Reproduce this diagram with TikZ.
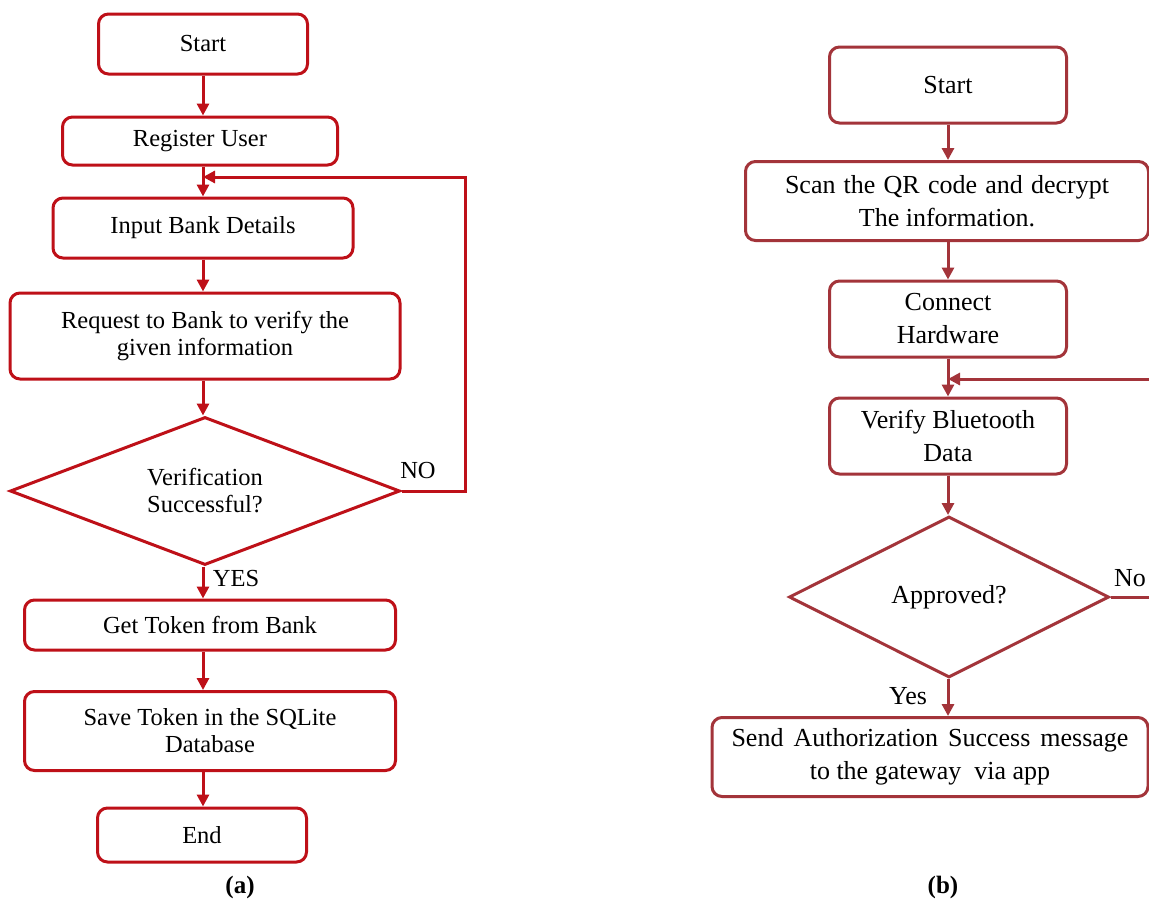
\documentclass[tikz,border=0pt]{standalone}
\usepackage{fontspec}
\setmainfont{Liberation Serif}
\usetikzlibrary{arrows.meta,shapes.geometric}
\definecolor{redA}{HTML}{BE1018}
\definecolor{redB}{HTML}{A3343A}
\begin{document}
\begin{tikzpicture}[x=1pt,y=-1pt,
  fA/.style={font=\fontsize{24.5}{27}\selectfont},
  fB/.style={font=\fontsize{26}{33}\selectfont},
  boxA/.style={draw=redA, line width=3pt, rounded corners=10pt, fill=white, align=center, inner sep=0pt, fA},
  boxB/.style={draw=redB, line width=3pt, rounded corners=10pt, fill=white, align=center, inner sep=0pt, fB},
  diaA/.style={draw=redA, line width=3pt, diamond, fill=white, align=center, inner sep=0pt, fA},
  diaB/.style={draw=redB, line width=3pt, diamond, fill=white, align=center, inner sep=0pt, fB},
  arrA/.style={draw=redA, line width=3pt, -{Triangle[width=12pt,length=12pt]}},
  arrB/.style={draw=redB, line width=3pt, -{Triangle[width=12pt,length=12pt]}},
  lineB/.style={draw=redB, line width=3pt},
  lbl/.style={inner sep=0pt},
  captext/.style={inner sep=0pt, font=\fontsize{25}{30}\selectfont\bfseries}
]
\useasboundingbox (0,0) rectangle (1149,903);
\fill[white] (0,0) rectangle (1149,903);

% ---------- (a) ----------
\node[boxA, minimum width=209pt, minimum height=60pt] (start1) at (203,44) {Start};
\node[boxA, minimum width=275pt, minimum height=48pt] (reg) at (200,141) {Register User};
\node[boxA, minimum width=300pt, minimum height=60pt] (inp) at (203,228) {Input Bank Details};
\node[boxA, minimum width=390pt, minimum height=86pt] (req) at (205,336) {Request to Bank to verify the\\given information};
\node[diaA, aspect=2.635, minimum width=390pt, minimum height=148pt] (dia1) at (205,491) {Verification\\Successful?};
\node[boxA, minimum width=371pt, minimum height=50pt] (tok) at (210,625) {Get Token from Bank};
\node[boxA, minimum width=371pt, minimum height=79pt] (save) at (210,731) {Save Token in the SQLite\\Database};
\node[boxA, minimum width=209pt, minimum height=54pt] (end1) at (202,835) {End};

\draw[arrA] (start1.south) -- (start1.south |- reg.north);
\draw[arrA] (reg.south -| start1.south) -- (inp.north -| start1.south);
\draw[arrA] (inp.south -| start1.south) -- (req.north -| start1.south);
\draw[arrA] (req.south -| start1.south) -- (dia1.north -| start1.south);
\draw[arrA] (dia1.south -| start1.south) -- (tok.north -| start1.south);
\draw[arrA] (tok.south -| start1.south) -- (save.north -| start1.south);
\draw[arrA] (save.south -| start1.south) -- (end1.north -| start1.south);

\coordinate (lp) at (465,177);
\draw[arrA, rounded corners=0pt] (dia1.east) -| (lp) -- (lp -| start1.south);

\node[lbl, fA] (no1) at (418,470) {NO};
\node[lbl, fA] (yes1) at (236,578) {YES};
\node[captext] (capa) at (240,887) {(a)};

% ---------- (b) ----------
\node[boxB, minimum width=237pt, minimum height=76pt] (start2) at (948,85) {Start};
\node[boxB, minimum width=403pt, minimum height=79pt] (scan) at (947,201) {\makebox[324pt][s]{Scan the QR code and decrypt}\\The information.};
\node[boxB, minimum width=237pt, minimum height=76pt] (conn) at (948,319) {Connect\\Hardware};
\node[boxB, minimum width=237pt, minimum height=76pt] (ver) at (948,436) {Verify Bluetooth\\Data};
\node[diaB, aspect=2, minimum width=320pt, minimum height=161pt] (dia2) at (949,597) {Approved?};
\node[boxB, minimum width=436pt, minimum height=79pt] (send) at (930,757) {\makebox[397pt][s]{Send Authorization Success message}\\to the gateway\ \ via app};

\draw[arrB] (start2.south) -- (start2.south |- scan.north);
\draw[arrB] (scan.south -| start2.south) -- (conn.north -| start2.south);
\draw[arrB] (conn.south -| start2.south) -- (ver.north -| start2.south);
\draw[arrB] (ver.south -| start2.south) -- (dia2.north -| start2.south);
\draw[arrB] (dia2.south -| start2.south) -- (send.north -| start2.south);

\coordinate (rq) at (1149,597);
\coordinate (rp) at (1149,379);
\draw[lineB] (dia2.east) -- (rq);
\draw[arrB] (rp) -- (rp -| start2.south);

\node[lbl, fB] (no2) at (1130,578) {No};
\node[lbl, fB] (yes2) at (908,696) {Yes};
\node[captext] (capb) at (943,887) {(b)};
\end{tikzpicture}
\end{document}
